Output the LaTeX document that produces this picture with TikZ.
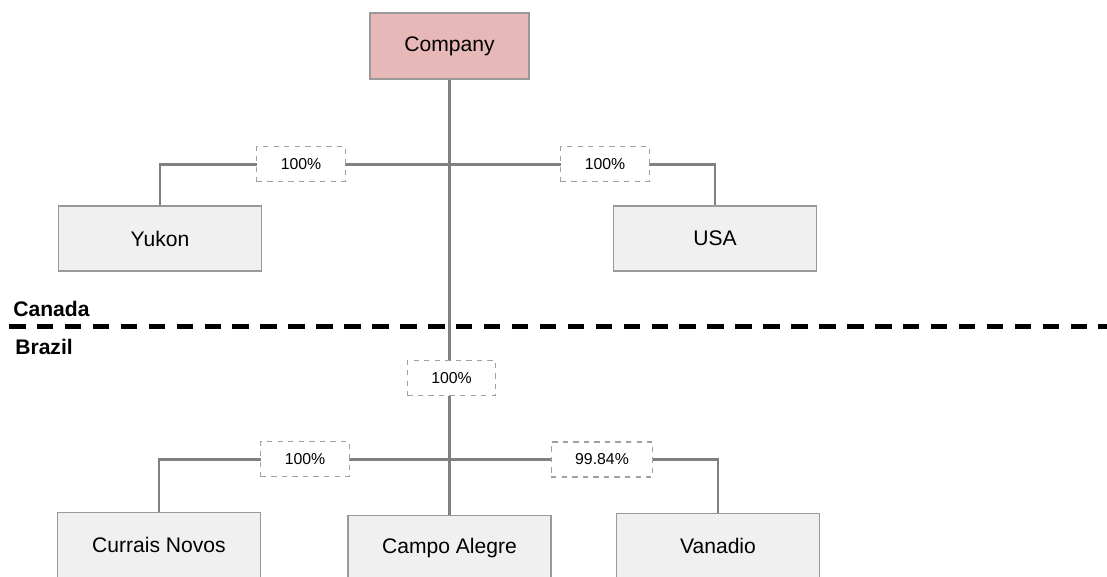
\documentclass[tikz,border=0pt]{standalone}
\usepackage{fontspec}
\setmainfont{Liberation Sans}
\usepackage{tikz}
\usetikzlibrary{positioning, calc}

\definecolor{boxgray}{HTML}{999999}
\definecolor{boxfill}{HTML}{F0F0F0}
\definecolor{toppink}{HTML}{E6B8B8}
\definecolor{linegray}{HTML}{808080}
\definecolor{dashgray}{HTML}{A0A0A0}

\begin{document}
\begin{tikzpicture}[
			x=0.02cm, y=-0.02cm,
			unit/.style={draw=boxgray, line width=1.1pt, fill=boxfill, rectangle, minimum width=4.06cm, minimum height=1.3cm, align=center, font=\fontsize{12}{14}\selectfont},
			parent/.style={unit, fill=toppink, minimum width=3.18cm, minimum height=1.32cm},
			share/.style={draw=dashgray, dashed, fill=white, line width=0.6pt, inner xsep=0.48cm, inner ysep=0pt, minimum height=0.7cm, font=\fontsize{9}{11}\selectfont},
			link/.style={draw=linegray, line width=1.7pt},
			region/.style={anchor=base west, inner sep=0pt, font=\bfseries\fontsize{12}{14}\selectfont}
			]
			\useasboundingbox (0,0) rectangle (1107,576);
			
			% --- Definicja węzłów (spółki) ---
			\node[parent] (company) at (449.5,46) {Company};
			\node[unit] (yukon) at (160,238.5) {Yukon};
			\node[unit] (usa) at (715,238.5) {USA};
			\node[unit] (currais) at (159,545) {Currais Novos};
			\node[unit] (campo) at (449.5,548) {Campo Alegre};
			\node[unit] (vanadio) at (718,546) {Vanadio};
			
			% --- Punkty rozgałęzień ---
			\coordinate (topjoin) at (company.south |- 0,164);
			\coordinate (lowjoin) at (company.south |- 0,459);
			
			% --- Linie powiązań ---
			\draw[link] (company.south) -- (campo.north);
			\draw[link] (yukon.north) |- (topjoin) -| (usa.north);
			\draw[link] (currais.north) |- (lowjoin) -| (vanadio.north);
			
			% --- Udziały procentowe ---
			\node[share] (shareyukon) at (301,164) {100\%};
			\node[share] (shareusa) at (605,164) {100\%};
			\node[share] (sharebrazil) at (451.5,378) {100\%};
			\node[share] (sharecurrais) at (305,459) {100\%};
			\node[share] (sharevanadio) at (602,459.5) {99.84\%};
			
			% --- Granica Canada / Brazil ---
			\coordinate (borderwest) at (9,326.5);
			\coordinate (bordereast) at (1107,326.5);
			\draw[line width=2.7pt, dash pattern=on 9.4pt off 6.5pt] (borderwest) -- (bordereast);
			\node[region] (canada) at (13,316) {Canada};
			\node[region] (brazil) at (15,354) {Brazil};
			
		\end{tikzpicture}
\end{document}
